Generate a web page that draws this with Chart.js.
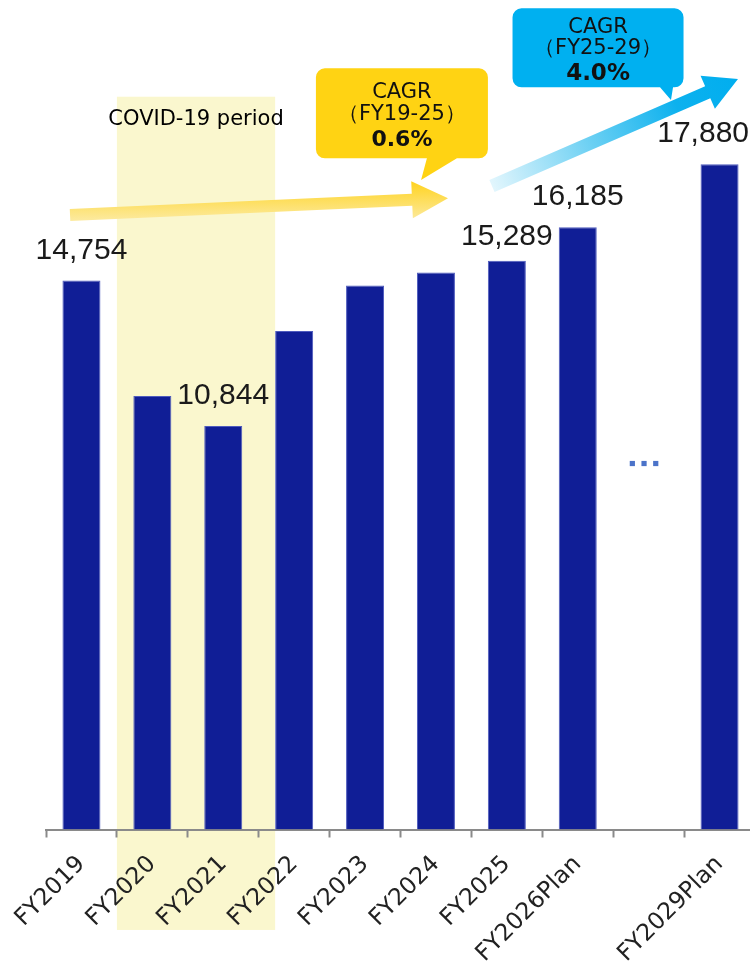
<!DOCTYPE html>
<html>
<head>
<meta charset="utf-8">
<script src="https://cdn.jsdelivr.net/npm/chart.js@4.4.1/dist/chart.umd.min.js"></script>
<style>
  html, body { margin: 0; padding: 0; background: #fff; overflow: hidden; }
  #wrap { width: 755px; height: 963px; }
</style>
</head>
<body>
<div id="wrap"><canvas id="grafico" width="755" height="963"></canvas></div>
<script>
// Chart data
const categories = ['FY2019', 'FY2020', 'FY2021', 'FY2022', 'FY2023', 'FY2024', 'FY2025', 'FY2026Plan', '', 'FY2029Plan'];
const values = [14754, 11650, 10844, 13400, 14620, 14970, 15289, 16185, null, 17880];
const labelled = ['FY2019', 'FY2021', 'FY2025', 'FY2026Plan', 'FY2029Plan'];
const covidPeriod = ['FY2020', 'FY2021'];
const cagrPast = ['CAGR', '（FY19-25）', '0.6%'];
const cagrPlan = ['CAGR', '（FY25-29）', '4.0%'];

// Helper: point in (category index, value) space -> pixels
function pt(chart, i, v) {
    return { x: chart.scales.x.getPixelForValue(i), y: chart.scales.y.getPixelForValue(v) };
}

// Function to draw a thick arrow
function drawArrow(ctx, s, t, shaft, headLen, headW, fill) {
    const dx = t.x - s.x, dy = t.y - s.y, len = Math.hypot(dx, dy);
    const ux = dx / len, uy = dy / len, nx = -uy, ny = ux;
    const bx = t.x - ux * headLen, by = t.y - uy * headLen;
    ctx.beginPath();
    ctx.moveTo(s.x + nx * shaft / 2, s.y + ny * shaft / 2);
    ctx.lineTo(bx + nx * shaft / 2, by + ny * shaft / 2);
    ctx.lineTo(bx + nx * headW / 2, by + ny * headW / 2);
    ctx.lineTo(t.x, t.y);
    ctx.lineTo(bx - nx * headW / 2, by - ny * headW / 2);
    ctx.lineTo(bx - nx * shaft / 2, by - ny * shaft / 2);
    ctx.lineTo(s.x - nx * shaft / 2, s.y - ny * shaft / 2);
    ctx.closePath();
    ctx.fillStyle = fill;
    ctx.fill();
}

// Function to draw a callout box with a pointer
function drawCallout(ctx, c, w, h, base0, base1, tip, color, lines, boldSize) {
    const r = 9, l = c.x - w / 2, t = c.y - h / 2, rt = l + w, b = t + h;
    ctx.beginPath();
    ctx.moveTo(l + r, t);
    ctx.lineTo(rt - r, t);
    ctx.arcTo(rt, t, rt, t + r, r);
    ctx.lineTo(rt, b - r);
    ctx.arcTo(rt, b, rt - r, b, r);
    ctx.lineTo(c.x + base1, b);
    ctx.lineTo(tip.x, tip.y);
    ctx.lineTo(c.x + base0, b);
    ctx.lineTo(l + r, b);
    ctx.arcTo(l, b, l, b - r, r);
    ctx.lineTo(l, t + r);
    ctx.arcTo(l, t, l + r, t, r);
    ctx.closePath();
    ctx.fillStyle = color;
    ctx.fill();

    ctx.fillStyle = '#111';
    ctx.textAlign = 'center';
    ctx.textBaseline = 'alphabetic';
    ctx.font = '21px "DejaVu Sans", sans-serif';
    ctx.fillText(lines[0], c.x, c.y - 15);
    ctx.fillText(lines[1], c.x, c.y + 6.5);
    ctx.font = 'bold ' + boldSize + 'px "DejaVu Sans", sans-serif';
    ctx.fillText(lines[2], c.x, c.y + 32.5);
}

// Plugin: white background and COVID shading behind everything
const backgroundPlugin = {
    id: 'fundo',
    beforeDraw(chart) {
        const ctx = chart.ctx, x = chart.scales.x;
        ctx.save();
        ctx.fillStyle = '#fff';
        ctx.fillRect(0, 0, chart.width, chart.height);
        const i0 = categories.indexOf(covidPeriod[0]);
        const i1 = categories.indexOf(covidPeriod[1]) + 1;
        const step = x.width / categories.length;
        const barW = chart.getDatasetMeta(0).data[i1].width;
        const left = x.getPixelForValue(i0) - step / 2;
        const right = x.getPixelForValue(i1) - barW / 2;
        const top = chart.scales.y.getPixelForValue(19696);
        const bottom = chart.scales.y.getPixelForValue(-2700);
        ctx.fillStyle = '#FAF7CE';
        ctx.fillRect(left, top, right - left, bottom - top);
        ctx.fillStyle = '#000';
        ctx.font = '21px "DejaVu Sans", sans-serif';
        ctx.textAlign = 'center';
        ctx.fillText('COVID-19 period', (left + right) / 2, chart.scales.y.getPixelForValue(18936));
        ctx.restore();
    }
};

// Plugin: value labels, arrows, callouts and the "..." marker
const annotationPlugin = {
    id: 'anotacoes',
    afterDatasetsDraw(chart) {
        const ctx = chart.ctx;
        ctx.save();

        // value labels
        const meta = chart.getDatasetMeta(0);
        ctx.font = '30px "Liberation Sans", Arial, sans-serif';
        ctx.fillStyle = '#1a1a1a';
        ctx.textAlign = 'center';
        ctx.textBaseline = 'alphabetic';
        meta.data.forEach((bar, i) => {
            if (!labelled.includes(categories[i]) || values[i] == null) return;
            const txt = values[i].toLocaleString('en-US');
            const w = ctx.measureText(txt).width;
            const cx = Math.min(bar.x, window.innerWidth - w / 2 - 1);
            const gap = categories[i] === 'FY2025' ? 16 : 22;
            ctx.fillText(txt, cx, bar.y - gap);
        });

        // "..." between FY2026Plan and FY2029Plan
        const dots = pt(chart, 7.935, 9837);
        ctx.fillStyle = '#4B73C9';
        [-11.7, 0, 11.7].forEach(d => ctx.fillRect(dots.x + d - 2.6, dots.y - 2.6, 5.2, 5.2));

        // yellow arrow (FY19-25)
        const ys = pt(chart, -0.161, 16520), yt = pt(chart, 5.17, 16970);
        const gy = ctx.createLinearGradient(0, yt.y - 18, 0, ys.y + 7);
        gy.addColorStop(0, '#FFD21A');
        gy.addColorStop(1, '#FCEBA4');
        drawArrow(ctx, ys, yt, 12, 36, 37, gy);

        // blue arrow (FY25-29)
        const bs = pt(chart, 5.79, 17296), bt = pt(chart, 9.26, 20172);
        const gb = ctx.createLinearGradient(bs.x, bs.y, bt.x, bt.y);
        gb.addColorStop(0, '#E2F6FD');
        gb.addColorStop(0.4, '#6CD0F3');
        gb.addColorStop(0.75, '#0DB1EE');
        gb.addColorStop(1, '#00AEEF');
        drawArrow(ctx, bs, bt, 13, 33, 36, gb);

        // callouts
        drawCallout(ctx, pt(chart, 4.52, 19250), 172, 90, 25, 55, pt(chart, 4.79, 17457), '#FFD313', cagrPast, 22);
        drawCallout(ctx, pt(chart, 7.286, 21010), 171, 79, 62, 75, pt(chart, 8.315, 19607), '#00B0F0', cagrPlan, 23);

        ctx.restore();
    }
};

// Function to build the bar chart
function buildChart() {
    const ctx = document.getElementById('grafico').getContext('2d');
    new Chart(ctx, {
        type: 'bar',
        data: {
            labels: categories,
            datasets: [{
                data: values,
                backgroundColor: '#101E96',
                borderColor: '#4E5BBE',
                borderWidth: 1,
                barPercentage: 0.536,
                categoryPercentage: 1
            }]
        },
        options: {
            responsive: false,
            animation: false,
            devicePixelRatio: 1,
            layout: { padding: { left: 46, top: 11, right: 0, bottom: 0 } },
            plugins: {
                legend: { display: false },
                tooltip: { enabled: false }
            },
            scales: {
                x: {
                    afterFit: (scale) => { scale.height = 133.5; },
                    border: { display: true, color: '#8a8a8a', width: 2 },
                    grid: {
                        display: true,
                        drawOnChartArea: false,
                        drawTicks: true,
                        tickLength: 8,
                        tickWidth: 2,
                        tickColor: '#8a8a8a',
                        offset: true
                    },
                    ticks: {
                        autoSkip: false,
                        maxRotation: 45,
                        minRotation: 45,
                        padding: 13,
                        color: '#222',
                        font: { family: '"DejaVu Sans", sans-serif', size: 23.5 }
                    }
                },
                y: {
                    display: false,
                    min: 0,
                    max: 22000
                }
            }
        },
        plugins: [backgroundPlugin, annotationPlugin]
    });
}

buildChart();
</script>
</body>
</html>
